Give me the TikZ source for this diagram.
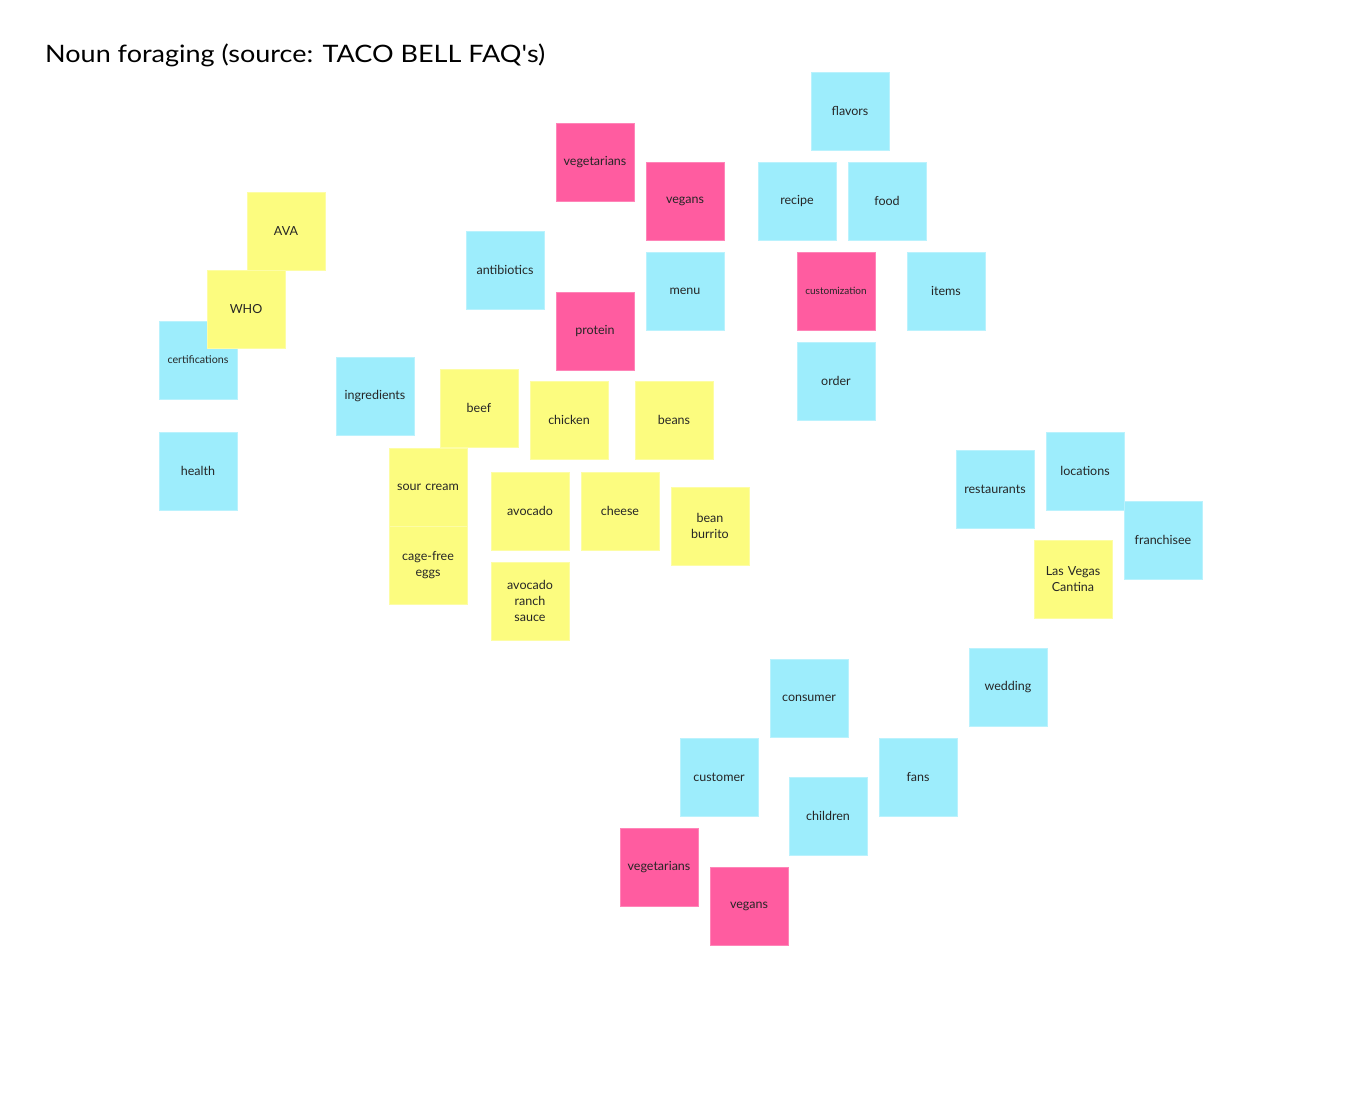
\documentclass[tikz,border=0pt]{standalone}
\usepackage{fontspec}
\setmainfont{Lato}
\definecolor{cy}{RGB}{157,237,252}
\definecolor{ye}{RGB}{252,252,127}
\definecolor{pk}{RGB}{255,92,160}
\tikzset{
  note/.style={minimum width=78pt, minimum height=78pt, inner sep=0pt, text width=72pt, align=center, font=\fontsize{12.5}{16}\selectfont, text=black!85},
  cnote/.style={note, fill=cy, draw=cy!70!white, line width=0.4pt},
  ynote/.style={note, fill=ye, draw=ye!70!white, line width=0.4pt},
  pnote/.style={note, fill=pk, draw=pk!75!white, line width=0.4pt},
  tiny/.style={font=\fontsize{10.7}{13}\selectfont},
  tinier/.style={font=\fontsize{10}{12}\selectfont},
}
\begin{document}
\begin{tikzpicture}[x=1pt,y=-1pt]
\useasboundingbox (0,0) rectangle (1350,1118);
\node[anchor=west, inner sep=0pt, font=\fontsize{24}{28}\selectfont] (title) at (45,55) {\scalebox{1.125}[1]{Noun foraging (source: TACO BELL FAQ\textquotesingle s)}};
% left cluster
\node[cnote, tiny] (certifications) at (198,360) {certifications};
\node[ynote] (ava) at (286,231) {AVA};
\node[ynote] (who) at (246,309) {WHO};
\node[cnote] (health) at (198,471) {health};
% ingredient cluster
\node[pnote] (vegetarians1) at (595,162) {vegetarians};
\node[pnote] (vegans1) at (685,201) {vegans};
\node[cnote] (antibiotics) at (505,270) {antibiotics};
\node[cnote] (menu) at (685,291) {menu};
\node[pnote] (protein) at (595,331) {protein};
\node[cnote] (ingredients) at (375,396) {ingredients};
\node[ynote] (beef) at (479,408) {beef};
\node[ynote] (chicken) at (569,420) {chicken};
\node[ynote] (beans) at (674,420) {beans};
\node[ynote] (sourcream) at (428,487) {sour cream};
\node[ynote] (eggs) at (428,565) {cage-free\\eggs};
\node[ynote] (avocado) at (530,511) {avocado};
\node[ynote] (cheese) at (620,511) {cheese};
\node[ynote] (beanburrito) at (710,526) {bean\\burrito};
\node[ynote] (ranch) at (530,601) {avocado\\ranch\\sauce};
% top right cluster
\node[cnote] (flavors) at (850,111) {flavors};
\node[cnote] (recipe) at (797,201) {recipe};
\node[cnote] (food) at (887,201) {food};
\node[pnote, tinier] (customization) at (836,291) {customization};
\node[cnote] (items) at (946,291) {items};
\node[cnote] (order) at (836,381) {order};
% right cluster
\node[cnote] (restaurants) at (995,489) {restaurants};
\node[cnote] (locations) at (1085,471) {locations};
\node[cnote] (franchisee) at (1163,540) {franchisee};
\node[ynote] (lasvegas) at (1073,579) {Las Vegas\\Cantina};
% bottom cluster
\node[cnote] (consumer) at (809,698) {consumer};
\node[cnote] (wedding) at (1008,687) {wedding};
\node[cnote] (customer) at (719,777) {customer};
\node[cnote] (fans) at (918,777) {fans};
\node[cnote] (children) at (828,816) {children};
\node[pnote] (vegetarians2) at (659,867) {vegetarians};
\node[pnote] (vegans2) at (749,906) {vegans};
\end{tikzpicture}
\end{document}
